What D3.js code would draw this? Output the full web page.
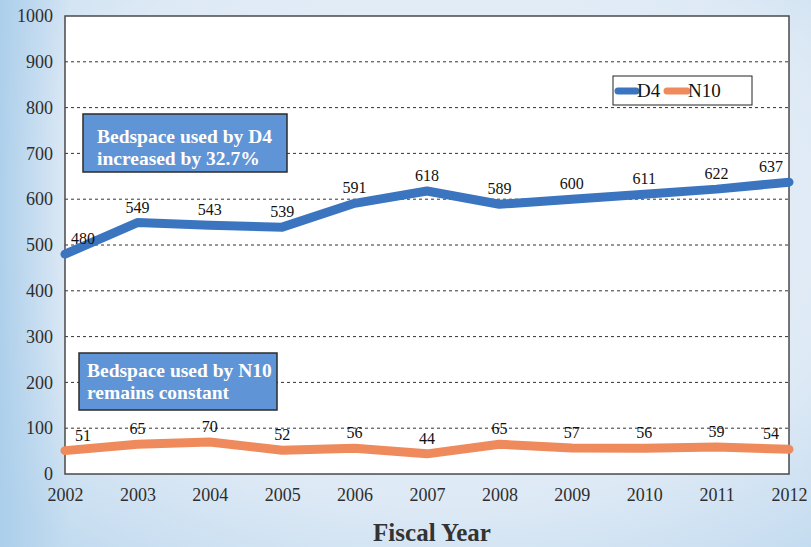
<!DOCTYPE html>
<html>
<head>
<meta charset="utf-8">
<script src="https://cdn.jsdelivr.net/npm/d3@7"></script>
<style>
  html, body { margin: 0; padding: 0; background: #dcebf7; }
  svg { display: block; }
  svg text { font-family: "Liberation Serif", "DejaVu Serif", serif; }
</style>
</head>
<body>
<svg id="chart" width="811" height="547"></svg>
<script>
// Bedspace usage by fiscal year
const years = [2002, 2003, 2004, 2005, 2006, 2007, 2008, 2009, 2010, 2011, 2012];
const d4Values = [480, 549, 543, 539, 591, 618, 589, 600, 611, 622, 637];
const n10Values = [51, 65, 70, 52, 56, 44, 65, 57, 56, 59, 54];
const yTicks = [0, 100, 200, 300, 400, 500, 600, 700, 800, 900, 1000];
const seriesNames = ["D4", "N10"];
const noteD4 = ["Bedspace used by D4", "increased by 32.7%"];
const noteN10 = ["Bedspace used by N10", "remains constant"];

const W = 811, H = 547;
const plot = { left: 65, right: 789, top: 16, bottom: 474 };
const blue = "#3b75c0", orange = "#ef8a5c", noteFill = "#5f95d6";

const svg = d3.select("#chart");

// Pale blue backdrop
const defs = svg.append("defs");
const bg = defs.append("radialGradient").attr("id", "bg")
  .attr("cx", "55%").attr("cy", "40%").attr("r", "75%");
bg.append("stop").attr("offset", "0%").attr("stop-color", "#eef5fb");
bg.append("stop").attr("offset", "70%").attr("stop-color", "#dde9f5");
bg.append("stop").attr("offset", "100%").attr("stop-color", "#c4dcf0");
const side = defs.append("linearGradient").attr("id", "side")
  .attr("x1", "0").attr("x2", "1").attr("y1", "0").attr("y2", "0");
side.append("stop").attr("offset", "0%").attr("stop-color", "#a9cdea").attr("stop-opacity", 0.9);
side.append("stop").attr("offset", "100%").attr("stop-color", "#a9cdea").attr("stop-opacity", 0);

svg.append("rect").attr("width", W).attr("height", H).attr("fill", "url(#bg)");
svg.append("rect").attr("x", 0).attr("y", 0).attr("width", 70).attr("height", H).attr("fill", "url(#side)");

const x = d3.scaleLinear().domain([years[0], years[years.length - 1]]).range([plot.left, plot.right]);
const y = d3.scaleLinear().domain([0, 1000]).range([plot.bottom, plot.top]);

// Plot area
svg.append("rect")
  .attr("x", plot.left).attr("y", plot.top)
  .attr("width", plot.right - plot.left).attr("height", plot.bottom - plot.top)
  .attr("fill", "#ffffff");

// Dashed gridlines
svg.append("g")
  .selectAll("line")
  .data(yTicks.filter(t => t > 0 && t < 1000))
  .join("line")
  .attr("x1", plot.left).attr("x2", plot.right)
  .attr("y1", d => y(d)).attr("y2", d => y(d))
  .attr("stroke", "#333").attr("stroke-width", 1)
  .attr("stroke-dasharray", "3,3");

// Axes
const yAxis = svg.append("g")
  .attr("transform", `translate(${plot.left},0)`)
  .call(d3.axisLeft(y).tickValues(yTicks).tickSize(0).tickPadding(12).tickFormat(d3.format("d")));
yAxis.attr("font-family", null);
yAxis.select(".domain").remove();
yAxis.selectAll("text").attr("font-size", 18).attr("fill", "#2e2e2e");

const xAxis = svg.append("g")
  .attr("transform", `translate(0,${plot.bottom})`)
  .call(d3.axisBottom(x).tickValues(years).tickSize(0).tickPadding(14).tickFormat(d3.format("d")));
xAxis.attr("font-family", null);
xAxis.select(".domain").remove();
xAxis.selectAll("text").attr("font-size", 18).attr("fill", "#2e2e2e");

// Plot border
svg.append("rect")
  .attr("x", plot.left).attr("y", plot.top)
  .attr("width", plot.right - plot.left).attr("height", plot.bottom - plot.top)
  .attr("fill", "none").attr("stroke", "#4a4a4a").attr("stroke-width", 1.5);

// Axis title
svg.append("text")
  .attr("x", (plot.left + plot.right) / 2 + 5).attr("y", 541)
  .attr("text-anchor", "middle")
  .attr("font-size", 25).attr("font-weight", "bold")
  .attr("fill", "#333")
  .text("Fiscal Year");

// Annotation boxes
function note(lines, bx, by, bw, bh, tx, ty) {
  const g = svg.append("g");
  g.append("rect").attr("x", bx).attr("y", by).attr("width", bw).attr("height", bh)
    .attr("fill", noteFill).attr("stroke", "#2b2b2b").attr("stroke-width", 1.5);
  g.selectAll("text").data(lines).join("text")
    .attr("x", tx).attr("y", (d, i) => ty + i * 22)
    .attr("font-size", 19.5).attr("font-weight", "bold")
    .attr("fill", "#ffffff")
    .text(d => d);
}
note(noteD4, 83, 114, 204, 58, 97, 143);
note(noteN10, 79, 353, 198, 57, 87, 377);

// Lines
const line = d3.line().x((d, i) => x(years[i])).y(d => y(d));
const series = [
  { name: seriesNames[0], values: d4Values, color: blue },
  { name: seriesNames[1], values: n10Values, color: orange }
];
series.forEach(s => {
  svg.append("path")
    .datum(s.values)
    .attr("d", line)
    .attr("fill", "none")
    .attr("stroke", s.color)
    .attr("stroke-width", 9)
    .attr("stroke-linejoin", "round")
    .attr("stroke-linecap", "round");
});

// Value labels
series.forEach(s => {
  svg.append("g").selectAll("text")
    .data(s.values)
    .join("text")
    .attr("x", (d, i) => x(years[i]) + (i === 0 ? 18 : i === years.length - 1 ? -18 : 0))
    .attr("y", d => y(d) - 10)
    .attr("text-anchor", "middle")
    .attr("font-size", 16)
    .attr("fill", "#111")
    .text(d => d);
});

// Legend
const lg = svg.append("g");
lg.append("rect").attr("x", 613).attr("y", 76).attr("width", 139).attr("height", 29)
  .attr("fill", "#fff").attr("stroke", "#222").attr("stroke-width", 1);
const legendItems = [
  { name: seriesNames[0], color: blue, x0: 618, x1: 636, tx: 637 },
  { name: seriesNames[1], color: orange, x0: 667, x1: 687, tx: 688 }
];
legendItems.forEach(it => {
  lg.append("line").attr("x1", it.x0).attr("x2", it.x1).attr("y1", 91).attr("y2", 91)
    .attr("stroke", it.color).attr("stroke-width", 7).attr("stroke-linecap", "round");
  lg.append("text").attr("x", it.tx).attr("y", 97)
    .attr("font-size", 19).attr("fill", "#111")
    .text(it.name);
});
</script>
</body>
</html>
